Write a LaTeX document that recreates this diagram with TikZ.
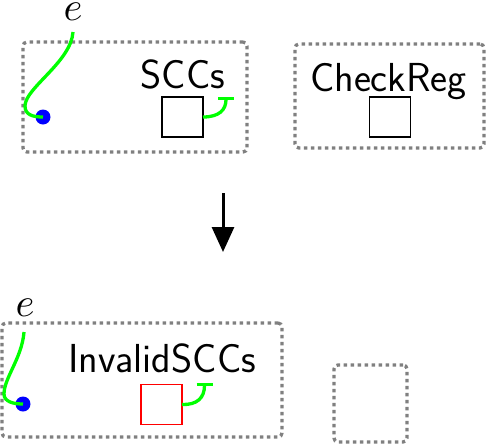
\documentclass[tikz,border=0pt]{standalone}
\usepackage{graphicx}
\usetikzlibrary{arrows.meta}
\begin{document}
\begin{tikzpicture}[x=1pt,y=-1pt,
  dotbox/.style={draw=gray, line width=3.3pt, dash pattern=on 3.5pt off 3.5pt, rounded corners=4pt, inner sep=0pt, outer sep=0pt},
  sq/.style={draw=black, line width=1.4pt, minimum width=41pt, minimum height=40pt, inner sep=0pt, outer sep=0pt},
  lbl/.style={font=\sffamily\fontsize{40.5}{48}\selectfont, inner sep=0pt, anchor=base},
  elbl/.style={inner sep=0pt},
  dotn/.style={circle, fill=blue, minimum size=15pt, inner sep=0pt},
  gline/.style={draw=green, line width=3.3pt},
  gbar/.style={gline, -{Bar[width=16pt,length=3pt]}}
]
\useasboundingbox (0,0) rectangle (488,445);
% top left group
\node[dotbox, minimum width=224pt, minimum height=110pt] (box1) at (135,97) {};
\node[elbl] (e1) at (73,11.5) {\scalebox{4.05}{$e$}};
\coordinate (s1) at (73,32);
\node[dotn] (d1) at (43,117) {};
\draw[gline] (s1) .. controls (71,62) and (25,88) .. (25,106) .. controls (25,115) and (33,117) .. (d1.center);
\node[lbl] (t1) at (183,88) {SCCs};
\node[sq] (q1) at (182.5,117) {};
\coordinate (b1) at (226,97);
\draw[gbar] (q1.east) .. controls (219,117) and (226,110) .. (b1);
% top right group
\node[dotbox, minimum width=189pt, minimum height=104pt] (box2) at (389.5,96) {};
\node[lbl] (t2) at (388.5,91.5) {CheckReg};
\node[sq] (q2) at (390,117) {};
% arrow
\coordinate (a1) at (223,193);
\coordinate (a2) at (223,252);
\draw[line width=3pt, -{Triangle[width=22pt,length=25pt]}] (a1) -- (a2);
% bottom left group
\node[dotbox, minimum width=280pt, minimum height=114pt] (box3) at (142,380) {};
\node[elbl] (e2) at (25,308) {\scalebox{4.05}{$e$}};
\coordinate (s2) at (24,332);
\node[dotn] (d2) at (23,404) {};
\draw[gline] (s2) .. controls (22,358) and (4,378) .. (4,394) .. controls (4,402) and (14,404) .. (d2.center);
\node[lbl] (t3) at (162,372) {InvalidSCCs};
\node[sq, draw=red] (q3) at (161.5,404.5) {};
\coordinate (b3) at (204.5,383);
\draw[gbar] (q3.east) .. controls (197,405) and (204.5,398) .. (b3);
% bottom right box
\node[dotbox, minimum width=73pt, minimum height=77pt] (box4) at (370.5,403.5) {};
\end{tikzpicture}
\end{document}
